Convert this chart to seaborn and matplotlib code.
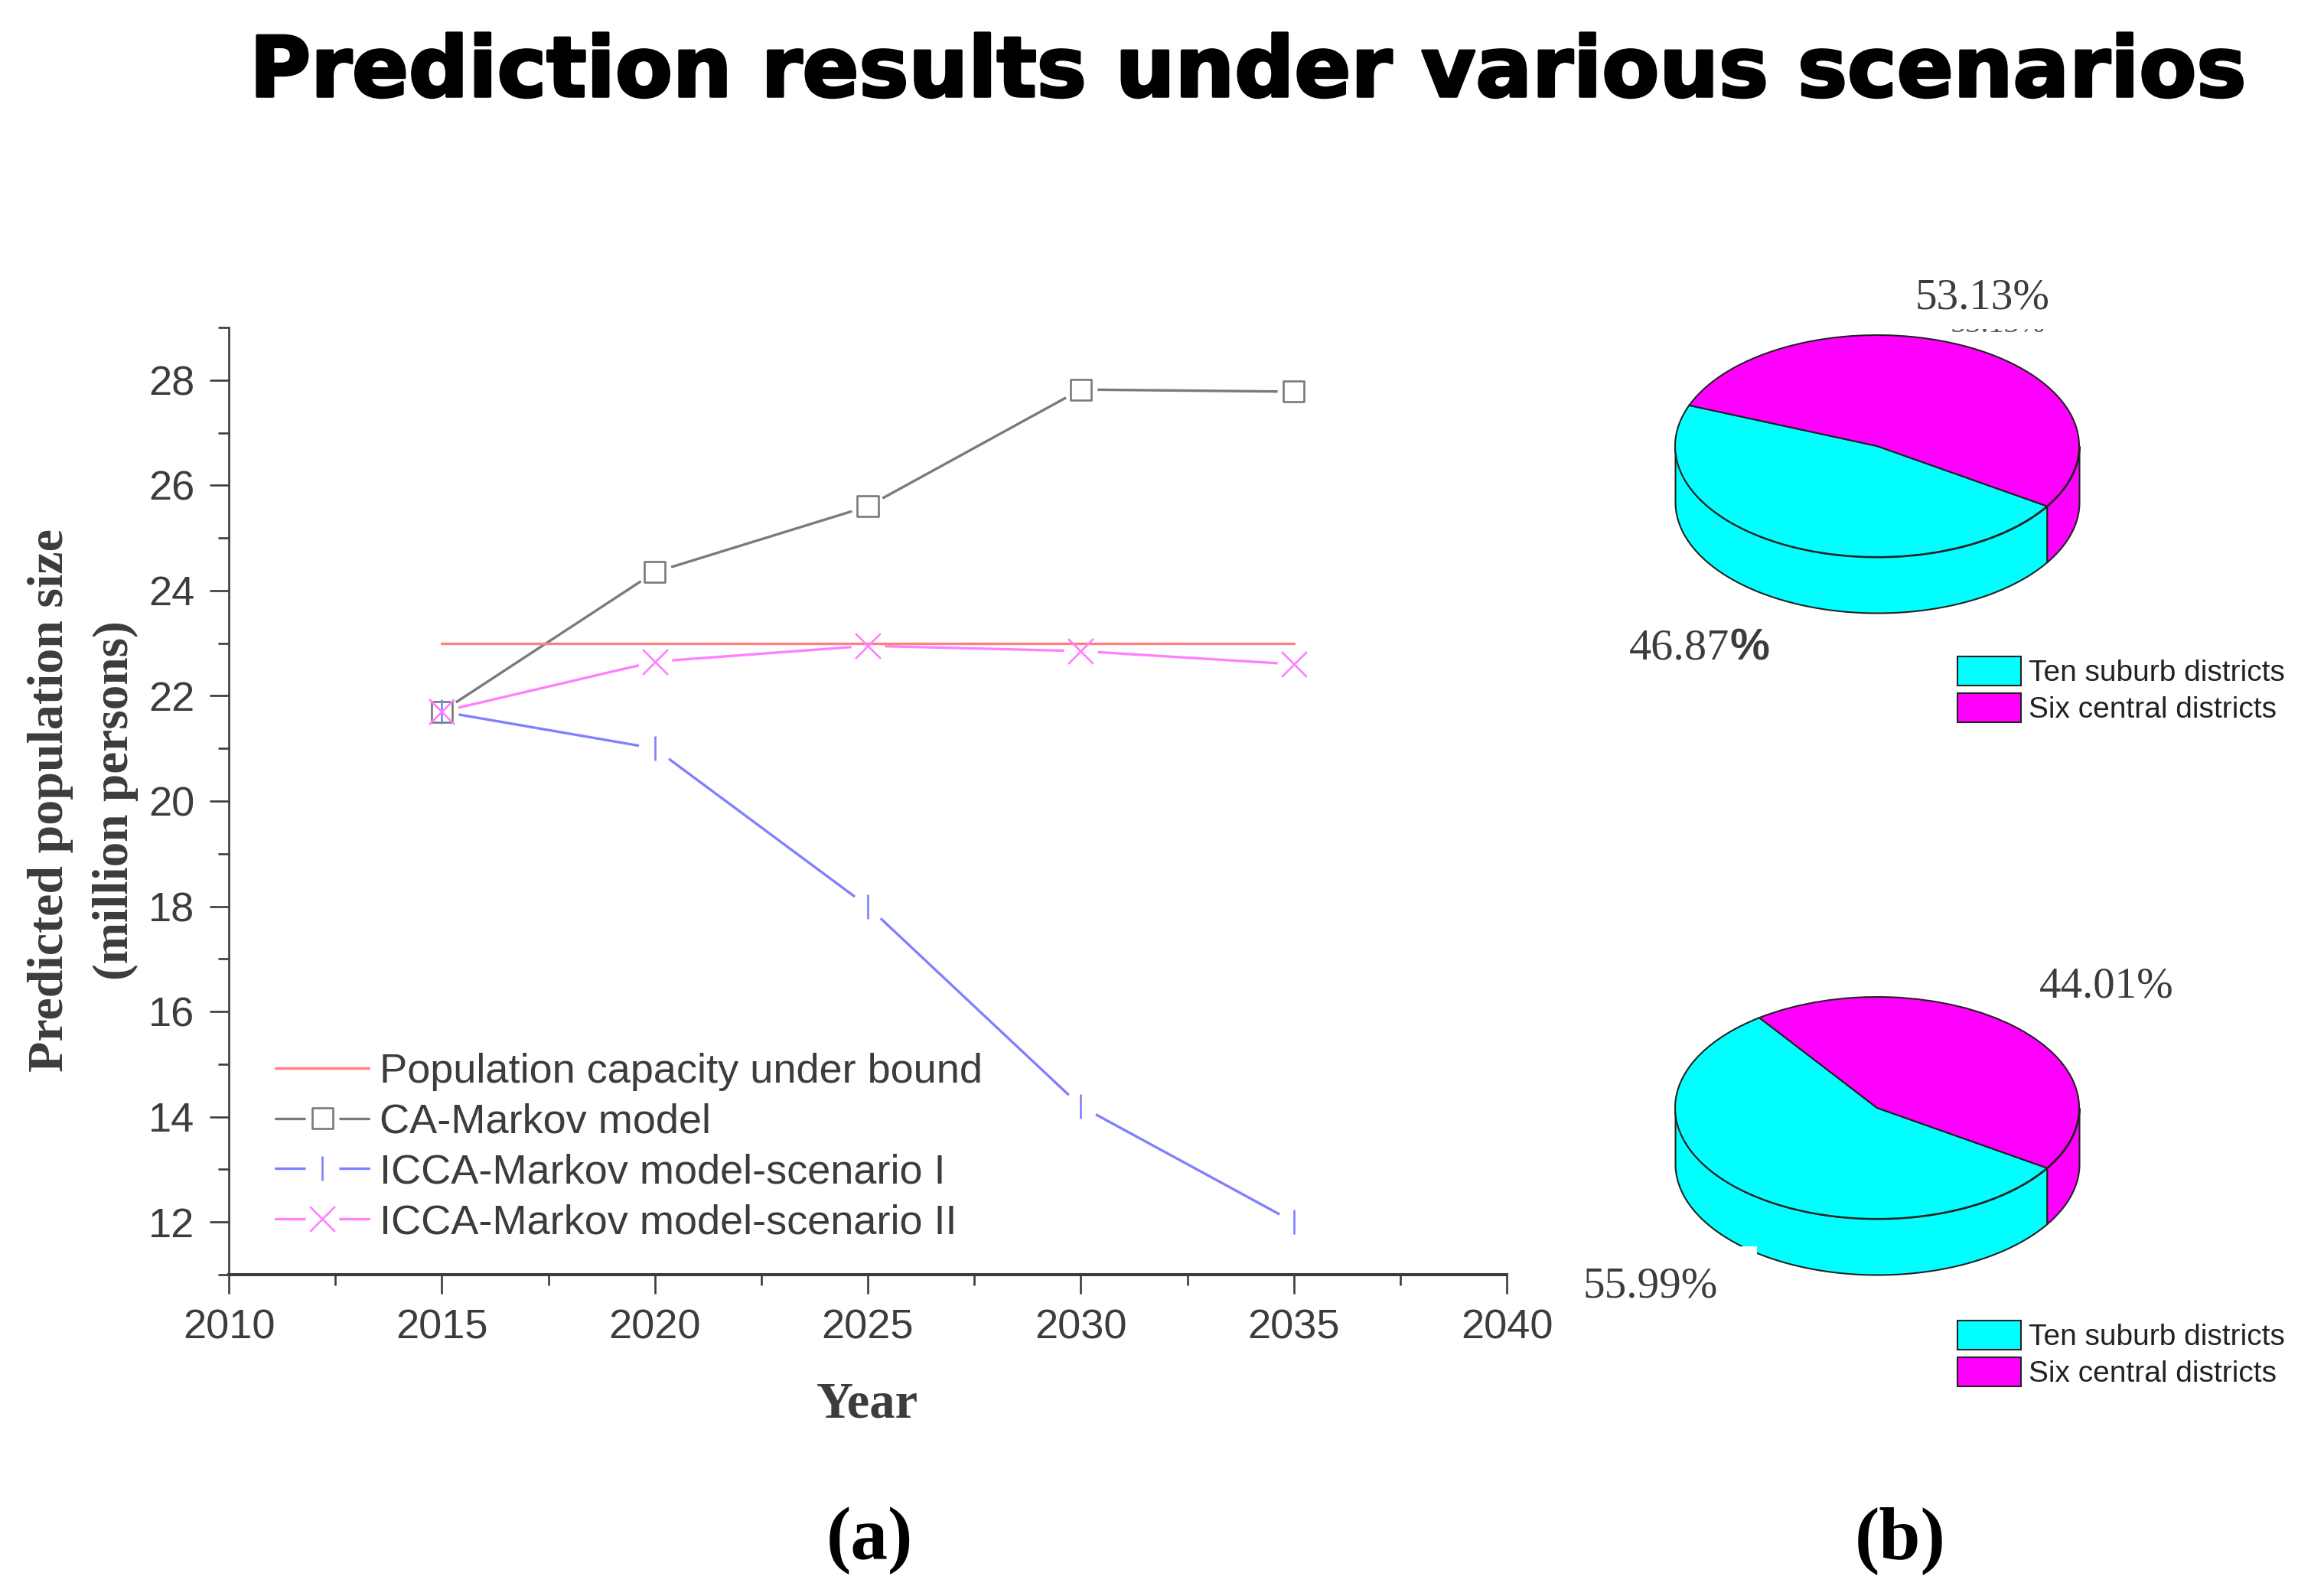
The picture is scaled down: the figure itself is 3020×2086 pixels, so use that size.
import matplotlib
matplotlib.use("Agg")
import matplotlib.pyplot as plt
import matplotlib.patheffects as pe
import numpy as np
import pandas as pd
import seaborn as sns
from matplotlib.legend_handler import HandlerTuple
from matplotlib.patches import Rectangle
from matplotlib.transforms import Bbox

years = [2015, 2020, 2025, 2030, 2035]
capacity = [23.0, 23.0, 23.0, 23.0, 23.0]
ca_markov = [21.7, 24.35, 25.6, 27.82, 27.78]
scenario_1 = [21.7, 21.0, 18.0, 14.2, 12.0]
scenario_2 = [21.7, 22.65, 22.95, 22.85, 22.6]
series_names = ["Population capacity under bound", "CA-Markov model",
                "ICCA-Markov model-scenario I", "ICCA-Markov model-scenario II"]
x_ticks = [2010, 2015, 2020, 2025, 2030, 2035, 2040]
y_ticks = [12, 14, 16, 18, 20, 22, 24, 26, 28]

pie_labels = ["Ten suburb districts", "Six central districts"]
pie_top = [46.87, 53.13]
pie_bottom = [55.99, 44.01]

W, H = 3020, 2086
INK = "#3c3c3c"
SANS = "Liberation Sans"
SERIF = "Liberation Serif"

sns.set_theme(style="ticks")
plt.rcParams["font.family"] = [SANS, "DejaVu Sans"]

fig = plt.figure(figsize=(W / 100, H / 100), dpi=100, facecolor="white")


def fx(px):
    return px / W


def fy(py):
    return 1 - py / H


def label(px, py, s, **kw):
    kw.setdefault("ha", "center")
    kw.setdefault("va", "center")
    return fig.text(fx(px), fy(py), s, **kw)


# line chart
ax = fig.add_axes([fx(299), fy(1666), fx(1670), 1 - fy(1238)])
ax.set_facecolor("none")
df = pd.DataFrame({"year": years * 4,
                   "pop": capacity + ca_markov + scenario_1 + scenario_2,
                   "series": [n for n in series_names for _ in years]})
palette = dict(zip(series_names, ["#ff8080", "#7a7a7a", "#8080ff", "#ff80ff"]))
handles = []
for name, z in zip(series_names[1:] + series_names[:1], [2, 2, 2, 4]):
    sub = df[df["series"] == name]
    sns.lineplot(data=sub, x="year", y="pop", color=palette[name], linewidth=2.4,
                 sort=False, errorbar=None, ax=ax, zorder=z)
line_by_name = dict(zip(series_names[1:] + series_names[:1], ax.lines))

mark_style = {series_names[1]: ("s", 380), series_names[2]: ("|", 530), series_names[3]: ("x", 560)}
for name in series_names[1:]:
    sub = df[df["series"] == name]
    sns.scatterplot(data=sub, x="year", y="pop", marker="o", s=1000, color="white",
                    linewidth=0, ax=ax, zorder=3, legend=False)
handles.append(line_by_name[series_names[0]])
for name in series_names[1:]:
    sub = df[df["series"] == name]
    m, s = mark_style[name]
    if m == "s":
        sns.scatterplot(data=sub, x="year", y="pop", marker=m, s=s, facecolor="none",
                        edgecolor=palette[name], linewidth=1.9, ax=ax, zorder=5, legend=False)
    else:
        sns.scatterplot(data=sub, x="year", y="pop", marker=m, s=s, color=palette[name],
                        linewidth=1.9, ax=ax, zorder=5, legend=False)
    marks = ax.collections[-1]
    blank = ax.scatter([], [], marker="o", s=1000, color="white", linewidth=0)
    handles.append((line_by_name[name], blank, marks))

ax.set_xlim(2010, 2040)
ax.set_ylim(11, 29)
ax.set_xticks(x_ticks)
ax.set_yticks(y_ticks)
ax.set_xticks(np.arange(2012.5, 2040, 5), minor=True)
ax.set_yticks(np.arange(11, 30, 2), minor=True)
ax.set_xlabel("")
ax.set_ylabel("")
for side in ["top", "right"]:
    ax.spines[side].set_visible(False)
ax.spines["left"].set_linewidth(1.9)
ax.spines["bottom"].set_linewidth(2.9)
ax.spines["left"].set_color(INK)
ax.spines["bottom"].set_color(INK)
ax.tick_params(axis="both", which="major", length=18, width=1.9, color=INK,
               labelsize=39, labelcolor=INK, pad=14, left=True, bottom=True)
ax.tick_params(axis="both", which="minor", length=10, width=1.9, color=INK, left=True, bottom=True)

leg = ax.legend(handles, series_names, handler_map={tuple: HandlerTuple(ndivide=1, pad=0)},
                loc="upper left", bbox_to_anchor=(fx(360), fy(1376)), bbox_transform=fig.transFigure,
                frameon=False, fontsize=39, labelspacing=0.29, handlelength=2.26, handletextpad=0.26,
                borderpad=0, borderaxespad=0, scatteryoffsets=[0.5], labelcolor=INK)

label(66, 1046, "Predicted population size", family=SERIF, weight="bold", size=47.5, rotation=90, color=INK)
label(151, 1046, "(million persons)", family=SERIF, weight="bold", size=47, rotation=90, color=INK)
label(1133, 1836, "Year", family=SERIF, weight="bold", size=48, color=INK)
label(1136, 2014, "(a)", family=SERIF, weight="bold", size=70, color="black")
label(2483, 2014, "(b)", family=SERIF, weight="bold", size=70, color="black")
title = label(1630, 126, "Prediction results under various scenarios", family="DejaVu Sans",
              weight="bold", size=78.6, color="black", va="baseline")
title.set_path_effects([pe.withStroke(linewidth=2.5, foreground="black")])


def draw_pie(values, cx, cy, legend_top):
    rx, ry, depth = 264, 145, 73
    d = depth / ry
    ax_pie = fig.add_axes([fx(cx - 1.03 * rx), fy(cy + (1 + d + 0.03) * ry),
                           fx(2.06 * rx), (2 + d + 0.06) * ry / H])
    seam = 327.2
    wedges, _ = ax_pie.pie(values, colors=["#00ffff", "#ff00ff"], startangle=seam - 3.6 * values[0],
                           wedgeprops=dict(edgecolor="#222222", linewidth=1.5))
    ax_pie.set_aspect("auto")
    ax_pie.set_xlim(-1.03, 1.03)
    ax_pie.set_ylim(-1 - d - 0.03, 1.03)
    for start, stop, col in [(180, seam, "#00ffff"), (seam, 360, "#ff00ff")]:
        t = np.radians(np.linspace(start, stop, 200))
        ax_pie.fill_between(np.cos(t), np.sin(t), np.sin(t) - d, facecolor=col,
                            edgecolor="#222222", linewidth=1.5, zorder=0.5)
    ax_pie.legend(wedges, pie_labels, loc="upper left", bbox_to_anchor=(fx(2558), fy(legend_top)),
                  bbox_transform=fig.transFigure, frameon=False, fontsize=28, labelspacing=0.2,
                  handlelength=2.13, handleheight=1.12, handletextpad=0.25, borderpad=0,
                  borderaxespad=0, labelcolor="#222222")


draw_pie(pie_top, 2453, 583, 858)
draw_pie(pie_bottom, 2453, 1448, 1726)

# white notch on the rim of the lower pie, it is in the source image
fig.add_artist(Rectangle((fx(2275), fy(1649)), fx(21), 20 / H, transform=fig.transFigure,
                         facecolor="white", edgecolor="none", zorder=10))

label(2590, 389, "53.13%", family=SERIF, size=41, color=INK)
ghost = label(2611, 424, "53.13%", family=SERIF, size=29, color="#555555")
ghost.set_clip_on(True)
ghost.set_clip_box(Bbox([[2500, H - 437], [2700, H - 430]]))
label(2260, 848, "46.87", family=SERIF, size=42, color=INK, ha="right")
label(2260, 848, "%", family=SANS, weight="bold", size=42, color=INK, ha="left")
label(2753, 1289, "44.01%", family=SERIF, size=41, color=INK)
label(2157, 1682, "55.99%", family=SERIF, size=41, color=INK)

fig.savefig("out.png", dpi=100, facecolor="white")
